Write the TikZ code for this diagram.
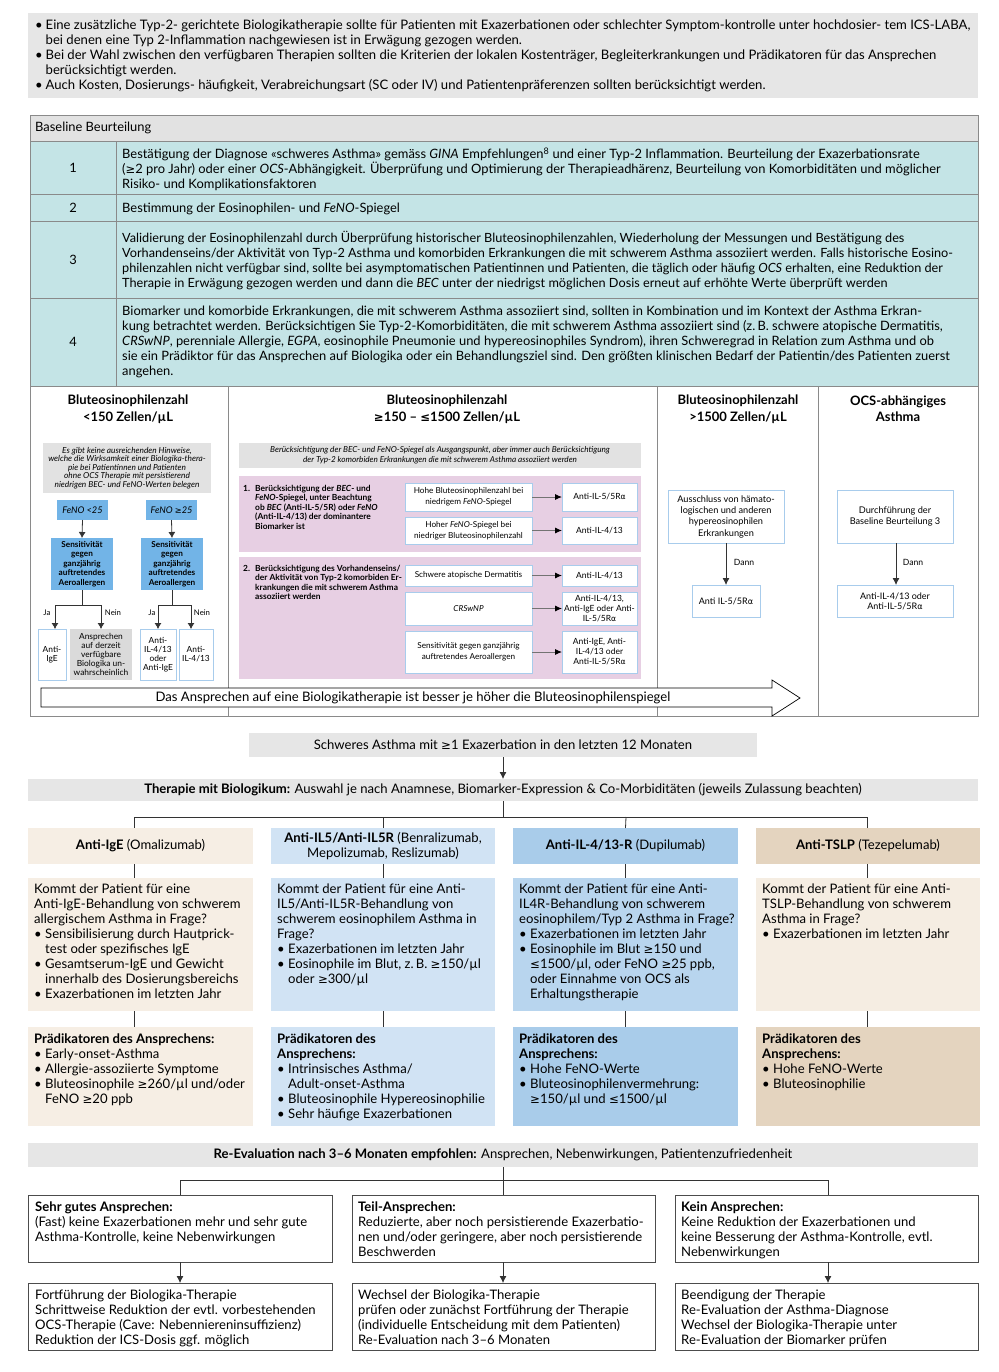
\documentclass[tikz,border=0pt]{standalone}
\usepackage{fontspec}
\setmainfont{Lato}
\newfontfamily\dvs[Scale=0.9]{DejaVu Sans}
\usetikzlibrary{arrows.meta}
\newcommand\Ge{{\dvs ≥}}
\newcommand\Le{{\dvs ≤}}
\newcommand\Al{{\dvs α}}
\newcommand\fs[2]{\fontsize{#1}{#2}\selectfont}
\newcommand\blt[1]{\makebox[#1][l]{\textbullet}}
\newcommand\rb[7]{\node[#2,anchor=north west,inner sep=0pt,outer sep=0pt,minimum width={(#5-#3)*1pt},minimum height={(#6-#4)*1pt}] (#1) at (#3,#4) {#7};}
\definecolor{gA}{HTML}{E6E6E6}
\definecolor{gH}{HTML}{E2E2E2}
\definecolor{tealC}{HTML}{C4E4E6}
\definecolor{tblC}{HTML}{8A8A8A}
\definecolor{lineC}{HTML}{333333}
\definecolor{pinkC}{HTML}{E7CFE3}
\definecolor{blueM}{HTML}{72B4E7}
\definecolor{ltB}{HTML}{A8CCEC}
\definecolor{grayS}{HTML}{DADADA}
\definecolor{cA}{HTML}{F6EEE4}
\definecolor{cB}{HTML}{D1E3F4}
\definecolor{cCh}{HTML}{A9CCEA}
\definecolor{cCb}{HTML}{B8D5EE}
\definecolor{cDh}{HTML}{E4D4BF}
\definecolor{cDb}{HTML}{F5EDE2}
\begin{document}
\begin{tikzpicture}[x=1pt,y=-1pt,
  tx/.style={anchor=north west,inner sep=0pt,align=left},
  ct/.style={inner sep=0pt,align=center},
  ln/.style={draw=lineC,line width=0.8pt},
  arr/.style={draw=lineC,line width=0.8pt,-{Latex[length=7pt,width=7pt]}},
  sarr/.style={draw=lineC,line width=0.8pt,-{Latex[length=6pt,width=7pt]}},
  garr/.style={draw=black!55,line width=0.9pt,-{Latex[length=7pt,width=6pt,color=black]}},
  tb/.style={draw=tblC,line width=0.8pt},
  wb/.style={fill=white,draw=ltB,line width=0.9pt,align=center},
  kb/.style={fill=white,draw=black!70,line width=0.8pt},
]
\useasboundingbox (0,0) rectangle (998,1372);
\fill[white] (0,0) rectangle (998,1372);

% ---------- top note ----------
\rb{topbox}{fill=gA}{28}{13}{978}{98}{}
\node[tx,font=\fs{13.1}{15}] (toptext) at (35,19.5) {%
\blt{10.5pt}Eine zusätzliche Typ-2- gerichtete Biologikatherapie sollte für Patienten mit Exazerbationen oder schlechter Symptom-kontrolle unter hochdosier- tem ICS-LABA,\\
\hspace*{10.5pt}bei denen eine Typ 2-Inflammation nachgewiesen ist in Erwägung gezogen werden.\\
\blt{10.5pt}Bei der Wahl zwischen den verfügbaren Therapien sollten die Kriterien der lokalen Kostenträger, Begleiterkrankungen und Prädikatoren für das Ansprechen\\
\hspace*{10.5pt}berücksichtigt werden.\\
\blt{10.5pt}Auch Kosten, Dosierungs- häufigkeit, Verabreichungsart (SC oder IV) und Patientenpräferenzen sollten berücksichtigt werden.};

% ---------- baseline table ----------
\rb{bbh}{fill=gH,tb}{30}{115}{978}{141}{}
\node[tx,font=\fs{12.9}{15}] (bbht) at (35,122) {Baseline Beurteilung};
\rb{n1}{fill=tealC,tb,font=\fs{12.9}{15}}{30}{141}{116}{194}{1}
\rb{r1}{fill=tealC,tb}{116}{141}{978}{194}{}
\rb{n2}{fill=tealC,tb,font=\fs{12.9}{15}}{30}{194}{116}{221}{2}
\rb{r2}{fill=tealC,tb}{116}{194}{978}{221}{}
\rb{n3}{fill=tealC,tb,font=\fs{12.9}{15}}{30}{221}{116}{298}{3}
\rb{r3}{fill=tealC,tb}{116}{221}{978}{298}{}
\rb{n4}{fill=tealC,tb,font=\fs{12.9}{15}}{30}{298}{116}{386}{4}
\rb{r4}{fill=tealC,tb}{116}{298}{978}{386}{}
\node[tx,font=\fs{12.9}{15}] (r1t) at (122,147.5) {Bestätigung der Diagnose «schweres Asthma» gemäss \textit{GINA} Empfehlungen\textsuperscript{8} und einer Typ-2 Inflammation. Beurteilung der Exazerbationsrate\\(\Ge2 pro Jahr) oder einer \textit{OCS}-Abhängigkeit. Überprüfung und Optimierung der Therapieadhärenz, Beurteilung von Komorbiditäten und möglicher\\Risiko- und Komplikationsfaktoren};
\node[tx,font=\fs{12.9}{15}] (r2t) at (122,202.5) {Bestimmung der Eosinophilen- und \textit{FeNO}-Spiegel};
\node[tx,font=\fs{12.7}{15}] (r3t) at (122,231.5) {Validierung der Eosinophilenzahl durch Überprüfung historischer Bluteosinophilenzahlen, Wiederholung der Messungen und Bestätigung des\\Vorhandenseins/der Aktivität von Typ-2 Asthma und komorbiden Erkrankungen die mit schwerem Asthma assoziiert werden. Falls historische Eosino-\\philenzahlen nicht verfügbar sind, sollte bei asymptomatischen Patientinnen und Patienten, die täglich oder häufig \textit{OCS} erhalten, eine Reduktion der\\Therapie in Erwägung gezogen werden und dann die \textit{BEC} unter der niedrigst möglichen Dosis erneut auf erhöhte Werte überprüft werden};
\node[tx,font=\fs{12.9}{15}] (r4t) at (122,305.5) {Biomarker und komorbide Erkrankungen, die mit schwerem Asthma assoziiert sind, sollten in Kombination und im Kontext der Asthma Erkran-\\kung betrachtet werden. Berücksichtigen Sie Typ-2-Komorbiditäten, die mit schwerem Asthma assoziiert sind (z.\,B. schwere atopische Dermatitis,\\\textit{CRSwNP}, perenniale Allergie, \textit{EGPA}, eosinophile Pneumonie und hypereosinophiles Syndrom), ihren Schweregrad in Relation zum Asthma und ob\\sie ein Prädiktor für das Ansprechen auf Biologika oder ein Behandlungsziel sind. Den größten klinischen Bedarf der Patientin/des Patienten zuerst\\angehen.};

% columns frame
\draw[tb] (30,386) rectangle (978,716);
\draw[tb] (228,386) -- (228,716);
\draw[tb] (657,386) -- (657,716);
\draw[tb] (818,386) -- (818,716);
\node[ct,font=\bfseries\fs{13}{16.5}] (h1) at (128,409.5) {Bluteosinophilenzahl\\<150 Zellen/µL};
\node[ct,font=\bfseries\fs{13}{16.5}] (h2) at (447,409.5) {Bluteosinophilenzahl\\\Ge150 – \Le1500 Zellen/µL};
\node[ct,font=\bfseries\fs{13}{16.5}] (h3) at (738,409.5) {Bluteosinophilenzahl\\>1500 Zellen/µL};
\node[ct,font=\bfseries\fs{13}{16.5}] (h4) at (898,408.5) {OCS-abhängiges\\Asthma};

% ---- left column ----
\rb{lg}{fill=gH,font=\itshape\fs{8.3}{8.6},align=center}{43}{443}{211}{493}{Es gibt keine ausreichenden Hinweise,\\welche die Wirksamkeit einer Biologika-thera-\\pie bei Patientinnen und Patienten\\ohne OCS Therapie mit persistierend\\niedrigen BEC- und FeNO-Werten belegen}
\rb{f1}{fill=blueM,font=\itshape\fs{9.2}{10}}{57}{500}{108}{520}{FeNO <25}
\rb{f2}{fill=blueM,font=\itshape\fs{9.2}{10}}{146}{500}{197}{520}{FeNO \Ge25}
\rb{s1}{fill=blueM,font=\bfseries\fs{8.2}{9.4},align=center}{51}{538}{113}{590}{Sensitivität\\gegen\\ganzjährig\\auftretendes\\Aeroallergen}
\rb{s2}{fill=blueM,font=\bfseries\fs{8.2}{9.4},align=center}{141}{538}{203}{590}{Sensitivität\\gegen\\ganzjährig\\auftretendes\\Aeroallergen}
\draw[sarr] (f1.south) -- (s1.north);
\draw[sarr] (f2.south) -- (s2.north);
\rb{o1}{wb,font=\fs{8.4}{9.2}}{38}{629}{66}{680}{Anti-\\IgE}
\rb{o2}{fill=grayS,font=\fs{8.4}{9.2},align=center}{70}{629}{132}{680}{Ansprechen\\auf derzeit\\verfügbare\\Biologika un-\\wahrscheinlich}
\rb{o3}{wb,font=\fs{8.4}{9.2}}{140}{629}{176}{680}{Anti-\\IL-4/13\\oder\\Anti-IgE}
\rb{o4}{wb,font=\fs{8.4}{9.2}}{179}{629}{213}{680}{Anti-\\IL-4/13}
\coordinate (j1) at (82,605);
\coordinate (j2) at (172,605);
\draw[ln] (s1.south) -- (j1);
\draw[ln] (s2.south) -- (j2);
\draw[sarr] (j1) -| ([xshift=3pt]o1.north);
\draw[sarr] (j1) -| (o2.north);
\draw[sarr] (j2) -| (o3.north);
\draw[sarr] (j2) -| ([xshift=-5pt]o4.north);
\node[ct,font=\fs{7.8}{8}] (ja1) at (47,613) {Ja};
\node[ct,font=\fs{7.8}{8}] (ne1) at (113,613) {Nein};
\node[ct,font=\fs{7.8}{8}] (ja2) at (152,613) {Ja};
\node[ct,font=\fs{7.8}{8}] (ne2) at (202,613) {Nein};

% ---- middle column ----
\rb{mg}{fill=gH,font=\itshape\fs{8.2}{10},align=center}{239}{443}{641}{468}{Berücksichtigung der BEC- und FeNO-Spiegel als Ausgangspunkt, aber immer auch Berücksichtigung\\der Typ-2 komorbiden Erkrankungen die mit schwerem Asthma assoziiert werden}
\rb{p1}{fill=pinkC}{239}{476}{641}{552}{}
\rb{p2}{fill=pinkC}{239}{557}{641}{679}{}
\node[tx,font=\bfseries\fs{8.4}{9.4}] (p1n) at (243,485) {1.};
\node[tx,font=\bfseries\fs{8.4}{9.4}] (p1t) at (255,485) {Berücksichtigung der \textit{BEC}- und\\\textit{FeNO}-Spiegel, unter Beachtung\\ob \textit{BEC} (Anti-IL-5/5R) oder \textit{FeNO}\\(Anti-IL-4/13) der dominantere\\Biomarker ist};
\node[tx,font=\bfseries\fs{8.4}{9.4}] (p2n) at (243,565) {2.};
\node[tx,font=\bfseries\fs{8.4}{9.4}] (p2t) at (255,565) {Berücksichtigung des Vorhandenseins/\\der Aktivität von Typ-2 komorbiden Er-\\krankungen die mit schwerem Asthma\\assoziiert werden};
\rb{a1}{wb,font=\fs{8.2}{11.2}}{405}{483}{532}{511}{Hohe Bluteosinophilenzahl bei\\niedrigem \textit{FeNO}-Spiegel}
\rb{a2}{wb,font=\fs{8.2}{11.2}}{405}{517}{532}{544}{Hoher \textit{FeNO}-Spiegel bei\\niedriger Bluteosinophilenzahl}
\rb{a3}{wb,font=\fs{8.2}{11.2}}{405}{565}{532}{586}{Schwere atopische Dermatitis}
\rb{a4}{wb,font=\itshape\fs{8.2}{11.2}}{405}{592}{532}{625}{CRSwNP}
\rb{a5}{wb,font=\fs{8.2}{11.2}}{405}{631}{532}{673}{Sensitivität gegen ganzjährig\\auftretendes Aeroallergen}
\rb{b1}{wb,font=\fs{8.5}{10}}{562}{483}{637}{511}{Anti-IL-5/5R\Al}
\rb{b2}{wb,font=\fs{8.5}{10}}{562}{517}{637}{544}{Anti-IL-4/13}
\rb{b3}{wb,font=\fs{8.5}{10}}{562}{565}{637}{586}{Anti-IL-4/13}
\rb{b4}{wb,font=\fs{8.5}{10}}{562}{592}{637}{625}{Anti-IL-4/13,\\Anti-IgE oder Anti-\\IL-5/5R\Al}
\rb{b5}{wb,font=\fs{8.5}{10}}{562}{631}{637}{673}{Anti-IgE, Anti-\\IL-4/13 oder\\Anti-IL-5/5R\Al}
\draw[garr] (a1.east) -- (b1.west);
\draw[garr] (a2.east) -- (b2.west);
\draw[garr] (a3.east) -- (b3.west);
\draw[garr] (a4.east) -- (b4.west);
\draw[garr] (a5.east) -- (b5.west);

% ---- third & fourth columns ----
\rb{t1}{wb,font=\fs{9.2}{11.3}}{668}{490}{784}{543}{Ausschluss von hämato-\\logischen und anderen\\hypereosinophilen\\Erkrankungen}
\rb{t2}{wb,font=\fs{9}{10}}{692}{585}{760}{617}{Anti IL-5/5R\Al}
\draw[arr] (t1.south -| 726,0) -- (t2.north -| 726,0);
\node[ct,font=\fs{8.6}{9}] (d1) at (744,562) {Dann};
\rb{u1}{wb,font=\fs{9.2}{11.3}}{837}{490}{953}{543}{Durchführung der\\Baseline Beurteilung 3}
\rb{u2}{wb,font=\fs{9}{10}}{837}{585}{953}{617}{Anti-IL-4/13 oder\\Anti-IL-5/5R\Al}
\draw[arr] (u1.south -| 896,0) -- (u2.north -| 896,0);
\node[ct,font=\fs{8.6}{9}] (d2) at (913,562) {Dann};

% ---- big arrow ----
\draw[line width=0.7pt,fill=white] (41,688) -- (772,688) -- (772,680) -- (800,698) -- (772,716) -- (772,707) -- (41,707) -- cycle;
\node[ct,font=\fs{13.1}{14}] (arrt) at (413,698) {Das Ansprechen auf eine Biologikatherapie ist besser je höher die Bluteosinophilenspiegel};

% ---------- therapy part ----------
\rb{sa}{fill=gA,font=\fs{13.1}{14}}{249}{733}{757}{757}{Schweres Asthma mit \Ge1 Exazerbation in den letzten 12 Monaten}
\rb{th}{fill=gA,font=\fs{13.1}{14}}{28}{779}{978}{801}{\textbf{Therapie mit Biologikum:} Auswahl je nach Anamnese, Biomarker-Expression \& Co-Morbiditäten (jeweils Zulassung beachten)}
\draw[arr] (sa.south) -- (th.north);
\coordinate (tj) at (503,817);
\draw[ln] (th.south) -- (tj);

\rb{H1}{fill=cA,font=\fs{13.1}{15}}{28}{828}{253}{864}{\textbf{Anti-IgE} (Omalizumab)}
\rb{H2}{fill=cB,font=\fs{13.1}{15},align=center}{271}{828}{495}{864}{\textbf{Anti-IL5/Anti-IL5R} (Benralizumab,\\Mepolizumab, Reslizumab)}
\rb{H3}{fill=cCh,font=\fs{13.1}{15}}{513}{828}{738}{864}{\textbf{Anti-IL-4/13-R} (Dupilumab)}
\rb{H4}{fill=cDh,font=\fs{13.1}{15}}{756}{828}{980}{864}{\textbf{Anti-TSLP} (Tezepelumab)}
\draw[ln] (134,817) -- (867,817);
\draw[ln] (134,817) -- (H1.north -| 134,0);
\draw[ln] (383,817) -- (H2.north);
\draw[ln] (626,817) -- (H3.north);
\draw[ln] (867,817) -- (H4.north -| 867,0);

\rb{B1}{fill=cA}{28}{878}{253}{1011}{}
\rb{B2}{fill=cB}{271}{878}{495}{1011}{}
\rb{B3}{fill=cCb}{513}{878}{738}{1011}{}
\rb{B4}{fill=cDb}{756}{878}{980}{1011}{}
\draw[ln] (H1.south -| 134,0) -- (B1.north -| 134,0);
\draw[ln] (H2.south) -- (B2.north);
\draw[ln] (H3.south) -- (B3.north);
\draw[ln] (H4.south -| 867,0) -- (B4.north -| 867,0);
\node[tx,font=\fs{13.1}{15}] (B1t) at (34,883.5) {Kommt der Patient für eine\\Anti-IgE-Behandlung von schwerem\\allergischem Asthma in Frage?\\\blt{11pt}Sensibilisierung durch Hautprick-\\\hspace*{11pt}test oder spezifisches IgE\\\blt{11pt}Gesamtserum-IgE und Gewicht\\\hspace*{11pt}innerhalb des Dosierungsbereichs\\\blt{11pt}Exazerbationen im letzten Jahr};
\node[tx,font=\fs{13.1}{15}] (B2t) at (277,883.5) {Kommt der Patient für eine Anti-\\IL5/Anti-IL5R-Behandlung von\\schwerem eosinophilem Asthma in\\Frage?\\\blt{11pt}Exazerbationen im letzten Jahr\\\blt{11pt}Eosinophile im Blut, z.\,B. \Ge150/µl\\\hspace*{11pt}oder \Ge300/µl};
\node[tx,font=\fs{13.1}{15}] (B3t) at (519,883.5) {Kommt der Patient für eine Anti-\\IL4R-Behandlung von schwerem\\eosinophilem/Typ 2 Asthma in Frage?\\\blt{11pt}Exazerbationen im letzten Jahr\\\blt{11pt}Eosinophile im Blut \Ge150 und\\\hspace*{11pt}\Le1500/µl, oder FeNO \Ge25 ppb,\\\hspace*{11pt}oder Einnahme von OCS als\\\hspace*{11pt}Erhaltungstherapie};
\node[tx,font=\fs{13.1}{15}] (B4t) at (762,883.5) {Kommt der Patient für eine Anti-\\TSLP-Behandlung von schwerem\\Asthma in Frage?\\\blt{11pt}Exazerbationen im letzten Jahr};

\rb{P1}{fill=cA}{28}{1027}{253}{1126}{}
\rb{P2}{fill=cB}{271}{1027}{495}{1126}{}
\rb{P3}{fill=cCh}{513}{1027}{738}{1126}{}
\rb{P4}{fill=cDh}{756}{1027}{980}{1126}{}
\draw[ln] (B1.south -| 134,0) -- (P1.north -| 134,0);
\draw[ln] (B2.south) -- (P2.north);
\draw[ln] (B3.south) -- (P3.north);
\draw[ln] (B4.south -| 867,0) -- (P4.north -| 867,0);
\node[tx,font=\fs{13.1}{15}] (P1t) at (34,1033.5) {\textbf{Prädikatoren des Ansprechens:}\\\blt{11pt}Early-onset-Asthma\\\blt{11pt}Allergie-assoziierte Symptome\\\blt{11pt}Bluteosinophile \Ge260/µl und/oder\\\hspace*{11pt}FeNO \Ge20 ppb};
\node[tx,font=\fs{13.1}{15}] (P2t) at (277,1033.5) {\textbf{Prädikatoren des}\\\textbf{Ansprechens:}\\\blt{11pt}Intrinsisches Asthma/\\\hspace*{11pt}Adult-onset-Asthma\\\blt{11pt}Bluteosinophile Hypereosinophilie\\\blt{11pt}Sehr häufige Exazerbationen};
\node[tx,font=\fs{13.1}{15}] (P3t) at (519,1033.5) {\textbf{Prädikatoren des}\\\textbf{Ansprechens:}\\\blt{11pt}Hohe FeNO-Werte\\\blt{11pt}Bluteosinophilenvermehrung:\\\hspace*{11pt}\Ge150/µl und \Le1500/µl};
\node[tx,font=\fs{13.1}{15}] (P4t) at (762,1033.5) {\textbf{Prädikatoren des}\\\textbf{Ansprechens:}\\\blt{11pt}Hohe FeNO-Werte\\\blt{11pt}Bluteosinophilie};

% ---------- re-evaluation ----------
\rb{re}{fill=gA,font=\fs{13.1}{14}}{28}{1143}{978}{1167}{\textbf{Re-Evaluation nach 3–6 Monaten empfohlen:} Ansprechen, Nebenwirkungen, Patientenzufriedenheit}
\coordinate (rj) at (503,1180);
\draw[ln] (re.south) -- (rj);
\draw[ln] (180,1180) -- (828,1180);
\rb{R1}{kb}{28}{1195}{332}{1262}{}
\rb{R2}{kb}{352}{1195}{655}{1262}{}
\rb{R3}{kb}{675}{1195}{978}{1262}{}
\draw[ln] (180,1180) -- (R1.north -| 180,0);
\draw[ln] (503,1180) -- (R2.north -| 503,0);
\draw[ln] (828,1180) -- (R3.north -| 828,0);
\node[tx,font=\fs{13.1}{15}] (R1t) at (35,1201.5) {\textbf{Sehr gutes Ansprechen:}\\(Fast) keine Exazerbationen mehr und sehr gute\\Asthma-Kontrolle, keine Nebenwirkungen};
\node[tx,font=\fs{13.1}{15}] (R2t) at (358,1201.5) {\textbf{Teil-Ansprechen:}\\Reduzierte, aber noch persistierende Exazerbatio-\\nen und/oder geringere, aber noch persistierende\\Beschwerden};
\node[tx,font=\fs{13.1}{15}] (R3t) at (681,1201.5) {\textbf{Kein Ansprechen:}\\Keine Reduktion der Exazerbationen und\\keine Besserung der Asthma-Kontrolle, evtl.\\Nebenwirkungen};
\rb{E1}{kb}{28}{1283}{332}{1350}{}
\rb{E2}{kb}{352}{1283}{655}{1350}{}
\rb{E3}{kb}{675}{1283}{978}{1350}{}
\draw[arr] (R1.south -| 180,0) -- (E1.north -| 180,0);
\draw[arr] (R2.south -| 503,0) -- (E2.north -| 503,0);
\draw[arr] (R3.south -| 828,0) -- (E3.north -| 828,0);
\node[tx,font=\fs{13.1}{15}] (E1t) at (35,1289.5) {Fortführung der Biologika-Therapie\\Schrittweise Reduktion der evtl. vorbestehenden\\OCS-Therapie (Cave: Nebenniereninsuffizienz)\\Reduktion der ICS-Dosis ggf. möglich};
\node[tx,font=\fs{13.1}{15}] (E2t) at (358,1289.5) {Wechsel der Biologika-Therapie\\prüfen oder zunächst Fortführung der Therapie\\(individuelle Entscheidung mit dem Patienten)\\Re-Evaluation nach 3–6 Monaten};
\node[tx,font=\fs{13.1}{15}] (E3t) at (681,1289.5) {Beendigung der Therapie\\Re-Evaluation der Asthma-Diagnose\\Wechsel der Biologika-Therapie unter\\Re-Evaluation der Biomarker prüfen};
\end{tikzpicture}
\end{document}
